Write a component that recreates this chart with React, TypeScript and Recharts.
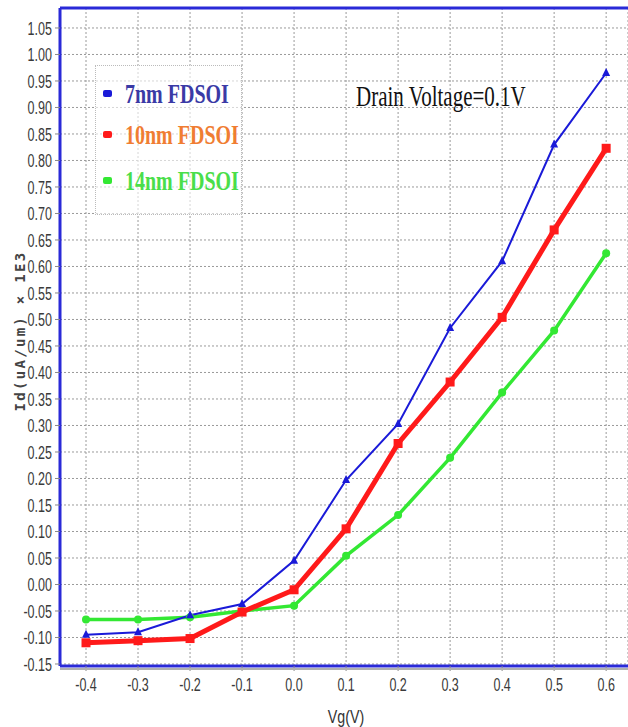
import React from 'react';
import {
    LineChart,
    Line,
    XAxis,
    YAxis,
    CartesianGrid,
    ReferenceLine,
    Label
} from 'recharts';

// gate voltage sweep
const vg = [-0.4, -0.3, -0.2, -0.1, 0.0, 0.1, 0.2, 0.3, 0.4, 0.5, 0.6];

// drain current, uA/um x 1E3
const id7nm = [-0.095, -0.09, -0.058, -0.037, 0.045, 0.197, 0.303, 0.484, 0.61, 0.83, 0.965];
const id10nm = [-0.11, -0.106, -0.102, -0.052, -0.01, 0.105, 0.266, 0.382, 0.504, 0.669, 0.823];
const id14nm = [-0.066, -0.066, -0.062, -0.05, -0.04, 0.054, 0.131, 0.239, 0.362, 0.479, 0.625];

const xTicks = [-0.4, -0.3, -0.2, -0.1, 0.0, 0.1, 0.2, 0.3, 0.4, 0.5, 0.6];
const yTicks = [
    -0.15, -0.1, -0.05, 0, 0.05, 0.1, 0.15, 0.2, 0.25, 0.3, 0.35, 0.4, 0.45, 0.5,
    0.55, 0.6, 0.65, 0.7, 0.75, 0.8, 0.85, 0.9, 0.95, 1.0, 1.05
];

const X_DOMAIN: [number, number] = [-0.45, 0.642];
const Y_DOMAIN: [number, number] = [-0.1538, 1.0877];

const data = vg.map((v, i) => ({
    vg: v,
    nm7: id7nm[i],
    nm10: id10nm[i],
    nm14: id14nm[i]
}));

const tickFont = "'Liberation Sans', Arial, sans-serif";
const serif = "'Liberation Serif', 'Times New Roman', serif";

// tick text is drawn narrow and tall like the original export
const NarrowTick = (props: any) => {
    const { x, y, payload, anchor, dy, digits } = props;
    return (
        <g transform={`translate(${x},${y})`}>
            <text
                transform="scale(0.66,1)"
                textAnchor={anchor}
                dy={dy}
                fill="#3a3a3a"
                fontSize={19}
                fontFamily={tickFont}
            >
                {Number(payload.value).toFixed(digits)}
            </text>
        </g>
    );
};

const Triangle = (props: any) => {
    const { cx, cy, fill } = props;
    if (cx == null || cy == null) return null;
    return <path d={`M${cx},${cy - 5} L${cx + 4},${cy + 3} L${cx - 4},${cy + 3} Z`} fill={fill} />;
};

const Square = (props: any) => {
    const { cx, cy, fill } = props;
    if (cx == null || cy == null) return null;
    return <rect x={cx - 4.5} y={cy - 4.5} width={9} height={9} fill={fill} />;
};

const Round = (props: any) => {
    const { cx, cy, fill } = props;
    if (cx == null || cy == null) return null;
    return <circle cx={cx} cy={cy} r={4} fill={fill} />;
};

const legendItems = [
    { label: '7nm FDSOI', marker: '#1a1ad8', text: '#3a3aa6', top: 80 },
    { label: '10nm FDSOI', marker: '#ff1a1a', text: '#f07d32', top: 121 },
    { label: '14nm FDSOI', marker: '#33e833', text: '#4ade4a', top: 167 }
];

const App: React.FC = () => {
    return (
        <div style={{ position: 'absolute', left: 0, top: 0, width: 628, height: 727, background: '#fff' }}>
            <LineChart
                width={628}
                height={727}
                data={data}
                margin={{ top: 8, right: 0, left: 0, bottom: 0 }}
            >
                <CartesianGrid strokeDasharray="2 2" stroke="#9a9a9a" />
                <XAxis
                    dataKey="vg"
                    type="number"
                    domain={X_DOMAIN}
                    ticks={xTicks}
                    allowDataOverflow
                    height={61}
                    tick={<NarrowTick anchor="middle" dy="0.71em" digits={1} />}
                    tickLine={{ stroke: '#888' }}
                    tickSize={5}
                    tickMargin={7}
                    axisLine={{ stroke: '#2a2ad8', strokeWidth: 3 }}
                >
                    <Label
                        content={() => (
                            <g transform="translate(346,716)">
                                <text
                                    transform="scale(0.75,1)"
                                    textAnchor="middle"
                                    dy="0.35em"
                                    fill="#333"
                                    fontSize={19}
                                    fontFamily={tickFont}
                                >
                                    Vg(V)
                                </text>
                            </g>
                        )}
                    />
                </XAxis>
                <YAxis
                    type="number"
                    domain={Y_DOMAIN}
                    ticks={yTicks}
                    allowDataOverflow
                    width={60}
                    tick={<NarrowTick anchor="end" dy="0.36em" digits={2} />}
                    tickLine={{ stroke: '#888' }}
                    tickSize={5}
                    tickMargin={3}
                    axisLine={{ stroke: '#2a2ad8', strokeWidth: 3 }}
                />
                <ReferenceLine y={Y_DOMAIN[1]} stroke="#2a2ad8" strokeWidth={3} />
                <Line
                    dataKey="nm14"
                    stroke="#33e833"
                    strokeWidth={3.5}
                    dot={<Round fill="#33e833" />}
                    isAnimationActive={false}
                />
                <Line
                    dataKey="nm10"
                    stroke="#ff1a1a"
                    strokeWidth={5}
                    dot={<Square fill="#ff1a1a" />}
                    isAnimationActive={false}
                />
                <Line
                    dataKey="nm7"
                    stroke="#1a1ad8"
                    strokeWidth={2}
                    dot={<Triangle fill="#1a1ad8" />}
                    isAnimationActive={false}
                />
            </LineChart>

            {/* grey rule under the bottom border */}
            <div style={{ position: 'absolute', left: 60, top: 668, width: 568, height: 2, background: '#b0b0b0' }} />

            {/* y axis title */}
            <div
                style={{
                    position: 'absolute',
                    left: 20,
                    top: 331,
                    transform: 'translate(-50%, -50%) rotate(-90deg)',
                    whiteSpace: 'nowrap',
                    fontFamily: "'DejaVu Sans Mono', monospace",
                    fontWeight: 'bold',
                    fontSize: 14,
                    letterSpacing: 2.3,
                    color: '#444'
                }}
            >
                Id(uA/um) × 1E3
            </div>

            {/* legend box */}
            <div
                style={{
                    position: 'absolute',
                    left: 95,
                    top: 65,
                    width: 145,
                    height: 148,
                    border: '1px dotted #bbb',
                    background: 'rgba(255,255,255,0.6)'
                }}
            />
            {legendItems.map(item => (
                <div
                    key={item.label}
                    style={{
                        position: 'absolute',
                        left: 103,
                        top: item.top,
                        height: 26,
                        display: 'flex',
                        alignItems: 'center',
                        fontFamily: serif,
                        fontWeight: 'bold',
                        fontSize: 20,
                        color: item.text,
                        whiteSpace: 'nowrap'
                    }}
                >
                    <span
                        style={{
                            display: 'inline-block',
                            width: 9,
                            height: 7,
                            background: item.marker,
                            marginRight: 13,
                            borderRadius: 2
                        }}
                    />
                    <span style={{ display: 'inline-block', transform: 'scaleY(1.4)' }}>{item.label}</span>
                </div>
            ))}
            <div
                style={{
                    position: 'absolute',
                    left: 356,
                    top: 84,
                    fontFamily: serif,
                    fontSize: 21,
                    color: '#111',
                    whiteSpace: 'nowrap',
                    transform: 'scaleY(1.45)'
                }}
            >
                Drain Voltage=0.1V
            </div>
        </div>
    );
};

export default App;
